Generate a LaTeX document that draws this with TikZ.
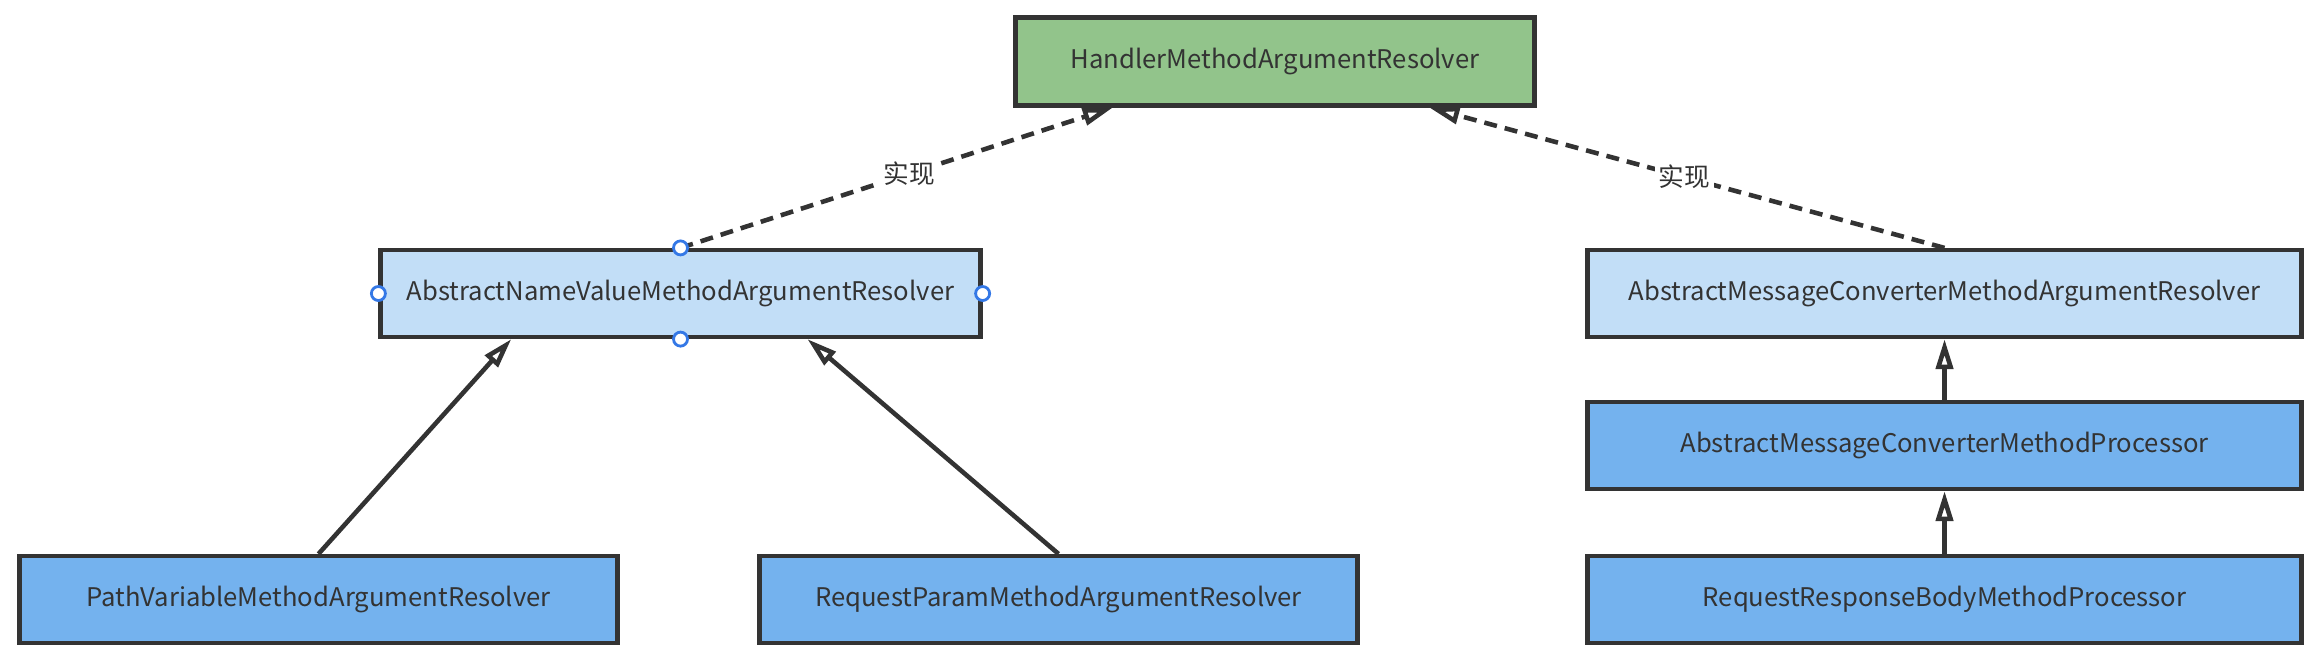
\documentclass[tikz,border=0pt]{standalone}
\usepackage{fontspec}
\setmainfont{Noto Sans CJK SC}
\usetikzlibrary{arrows.meta, calc}

\definecolor{ifacegreen}{RGB}{146,196,139}
\definecolor{paleblue}{RGB}{194,222,247}
\definecolor{midblue}{RGB}{116,178,238}
\definecolor{edgegray}{RGB}{51,51,51}
\definecolor{handleblue}{RGB}{52,120,230}

\begin{document}
\begin{tikzpicture}[
    every node/.style={font=\fontsize{7.3pt}{9pt}\selectfont, text=edgegray},
    classbox/.style={draw=edgegray, line width=1.2pt, inner sep=0pt, minimum height=0.87cm},
    impl/.style={draw=edgegray, line width=1.3pt, dash pattern=on 3.7pt off 2.3pt,
        -{Triangle[open, length=0.3cm, width=0.17cm]}},
    ext/.style={draw=edgegray, line width=1.3pt,
        -{Triangle[open, length=0.3cm, width=0.17cm]}},
    handle/.style={draw=handleblue, fill=white, line width=0.8pt},
]

\useasboundingbox (0,0) rectangle (23.22,6.6);

% === Interface ===
\node[classbox, fill=ifacegreen, minimum width=5.19cm, minimum height=0.88cm] (hmar) at (12.75,5.985) {HandlerMethodArgumentResolver};

% === Abstract resolvers ===
\node[classbox, fill=paleblue, minimum width=6.0cm] (anv) at (6.805,3.665) {AbstractNameValueMethodArgumentResolver};
\node[classbox, fill=paleblue, minimum width=7.14cm] (amcr) at (19.445,3.665) {AbstractMessageConverterMethodArgumentResolver};

% === Concrete classes ===
\node[classbox, fill=midblue, minimum width=7.14cm] (amcp) at (19.445,2.145) {AbstractMessageConverterMethodProcessor};
\node[classbox, fill=midblue, minimum width=7.14cm] (rrb) at (19.445,0.605) {RequestResponseBodyMethodProcessor};
\node[classbox, fill=midblue, minimum width=5.98cm] (pv) at (3.185,0.605) {PathVariableMethodArgumentResolver};
\node[classbox, fill=midblue, minimum width=5.98cm] (rp) at (10.585,0.605) {RequestParamMethodArgumentResolver};

% === Implements ===
\draw[impl] (anv.north) -- node[pos=0.53, fill=white, inner sep=1pt] (lblA) {实现} ($(hmar.south west)!0.19!(hmar.south east)$);
\draw[impl] (amcr.north) -- node[pos=0.505, fill=white, inner sep=1pt] (lblB) {实现} ($(hmar.south west)!0.795!(hmar.south east)$);

% === Extends ===
\draw[ext] (pv.north) -- ($(anv.south west)!0.22!(anv.south east)$);
\draw[ext] (rp.north) -- ($(anv.south west)!0.71!(anv.south east)$);
\draw[ext] (amcp.north) -- (amcr.south);
\draw[ext] (rrb.north) -- (amcp.south);

% selection handles
\foreach \a in {north,south,west,east}
    \draw[handle] (anv.\a) circle (0.07);

\end{tikzpicture}
\end{document}
